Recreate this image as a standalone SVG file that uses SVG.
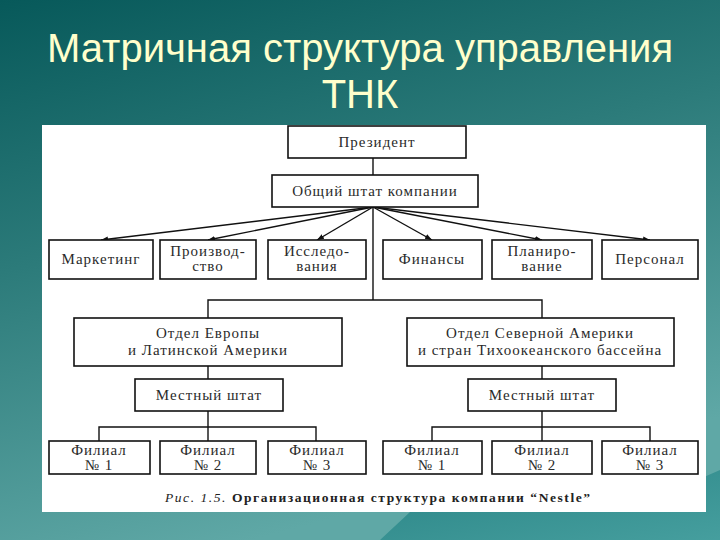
<svg xmlns="http://www.w3.org/2000/svg" width="720" height="540" viewBox="0 0 720 540">
<defs>
<linearGradient id="bg" x1="0" y1="0" x2="0.35" y2="1">
<stop offset="0" stop-color="#07595a"/>
<stop offset="0.45" stop-color="#2c7b7a"/>
<stop offset="1" stop-color="#5fa8a6"/>
</linearGradient>
<linearGradient id="mt" x1="0" y1="0" x2="1" y2="1">
<stop offset="0" stop-color="#1d7c7e"/>
<stop offset="1" stop-color="#3f9c9c"/>
</linearGradient>
<marker id="ah" viewBox="0 0 8 8" refX="8" refY="4" markerWidth="5" markerHeight="5" orient="auto">
<path d="M0,1 L8,4 L0,7 z" fill="#111"/>
</marker>
<style>
.title{font-family:"Liberation Sans",Arial,sans-serif;font-size:40px;fill:#ffffcc;text-anchor:middle}
.box{fill:#fff;stroke:#111;stroke-width:1.6}
.t{font-family:"Liberation Serif","Times New Roman",serif;font-size:15px;fill:#2a2a2a;text-anchor:middle;letter-spacing:1px}
.c{stroke:#111;stroke-width:1.4;fill:none}
.cap{font-family:"Liberation Serif","Times New Roman",serif;font-size:13.5px;fill:#222}
</style>
</defs>
<rect width="720" height="540" fill="url(#bg)"/>
<path d="M380,540 L410,512 L470,505 L560,498 L640,505 L720,470 L720,540 z" fill="url(#mt)" opacity="0.8"/>
<text class="title" x="360" y="62">Матричная структура управления</text>
<text class="title" x="360" y="108">ТНК</text>
<rect x="42" y="125" width="664" height="387" fill="#fff"/>

<g id="connectors">
<line class="c" x1="373" y1="158" x2="373" y2="175"/>
<line class="c" x1="373" y1="207" x2="101" y2="240" marker-end="url(#ah)"/>
<line class="c" x1="373" y1="207" x2="208" y2="240" marker-end="url(#ah)"/>
<line class="c" x1="373" y1="207" x2="317" y2="240" marker-end="url(#ah)"/>
<line class="c" x1="373" y1="207" x2="432" y2="240" marker-end="url(#ah)"/>
<line class="c" x1="373" y1="207" x2="542" y2="240" marker-end="url(#ah)"/>
<line class="c" x1="373" y1="207" x2="650" y2="240" marker-end="url(#ah)"/>
<polyline class="c" points="373,207 373,300"/>
<polyline class="c" points="208,318 208,300 542,300 542,318"/>
<line class="c" x1="208" y1="366" x2="208" y2="379"/>
<line class="c" x1="542" y1="366" x2="542" y2="379"/>
<line class="c" x1="208" y1="411" x2="208" y2="441"/>
<polyline class="c" points="99,441 99,427 316,427 316,441"/>
<line class="c" x1="542" y1="411" x2="542" y2="441"/>
<polyline class="c" points="432,441 432,427 650,427 650,441"/>
</g>

<g id="president"><rect class="box" x="288" y="126" width="178" height="32"/><text class="t" x="377" y="147">Президент</text></g>
<g id="staff"><rect class="box" x="272" y="175" width="206" height="32"/><text class="t" x="375" y="196">Общий штат компании</text></g>

<g id="marketing"><rect class="box" x="49" y="240" width="104" height="39"/><text class="t" x="101" y="264">Маркетинг</text></g>
<g id="production"><rect class="box" x="160" y="240" width="96" height="39"/><text class="t" x="208" y="256">Производ-</text><text class="t" x="208" y="271">ство</text></g>
<g id="research"><rect class="box" x="268" y="240" width="98" height="39"/><text class="t" x="317" y="256">Исследо-</text><text class="t" x="317" y="271">вания</text></g>
<g id="finance"><rect class="box" x="383" y="240" width="99" height="39"/><text class="t" x="432" y="264">Финансы</text></g>
<g id="planning"><rect class="box" x="492" y="240" width="100" height="39"/><text class="t" x="542" y="256">Планиро-</text><text class="t" x="542" y="271">вание</text></g>
<g id="personnel"><rect class="box" x="602" y="240" width="96" height="39"/><text class="t" x="650" y="264">Персонал</text></g>

<g id="europe"><rect class="box" x="74" y="318" width="268" height="48"/><text class="t" x="208" y="338">Отдел Европы</text><text class="t" x="208" y="355">и Латинской Америки</text></g>
<g id="namerica"><rect class="box" x="407" y="318" width="267" height="48"/><text class="t" x="540" y="338">Отдел Северной Америки</text><text class="t" x="540" y="355">и стран Тихоокеанского бассейна</text></g>

<g id="local-left"><rect class="box" x="135" y="379" width="148" height="32"/><text class="t" x="209" y="400">Местный штат</text></g>
<g id="local-right"><rect class="box" x="468" y="379" width="148" height="32"/><text class="t" x="542" y="400">Местный штат</text></g>

<g id="branch-l1"><rect class="box" x="49" y="441" width="101" height="33"/><text class="t" x="99" y="455">Филиал</text><text class="t" x="99" y="470">№ 1</text></g>
<g id="branch-l2"><rect class="box" x="160" y="441" width="96" height="33"/><text class="t" x="208" y="455">Филиал</text><text class="t" x="208" y="470">№ 2</text></g>
<g id="branch-l3"><rect class="box" x="268" y="441" width="98" height="33"/><text class="t" x="317" y="455">Филиал</text><text class="t" x="317" y="470">№ 3</text></g>
<g id="branch-r1"><rect class="box" x="383" y="441" width="99" height="33"/><text class="t" x="432" y="455">Филиал</text><text class="t" x="432" y="470">№ 1</text></g>
<g id="branch-r2"><rect class="box" x="492" y="441" width="100" height="33"/><text class="t" x="542" y="455">Филиал</text><text class="t" x="542" y="470">№ 2</text></g>
<g id="branch-r3"><rect class="box" x="602" y="441" width="96" height="33"/><text class="t" x="650" y="455">Филиал</text><text class="t" x="650" y="470">№ 3</text></g>

<text class="cap" x="165" y="502" textLength="425" lengthAdjust="spacing"><tspan font-style="italic">Рис. 1.5.</tspan> <tspan font-weight="bold">Организационная структура компании “Nestle”</tspan></text>
</svg>
